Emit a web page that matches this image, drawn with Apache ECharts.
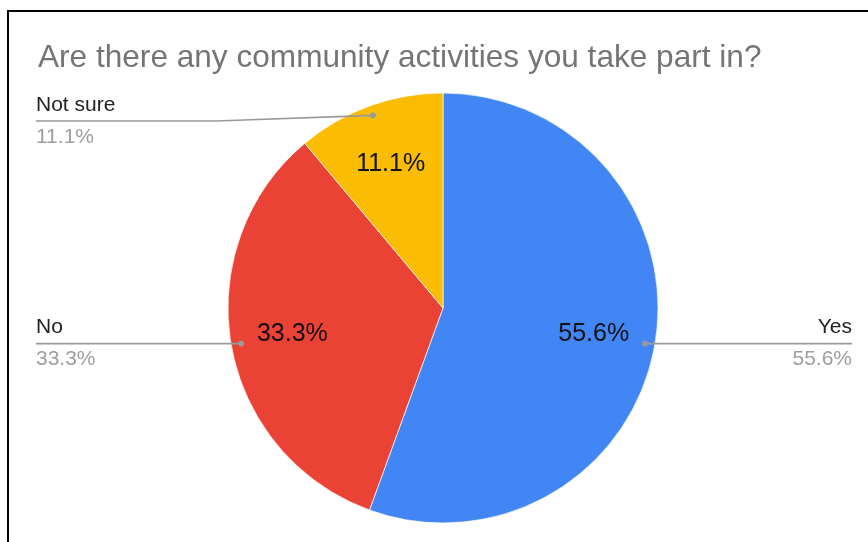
<!DOCTYPE html>
<html>
<head>
<meta charset="utf-8">
<script src="https://cdn.jsdelivr.net/npm/echarts@6/dist/echarts.min.js"></script>
<style>
  html, body { margin: 0; padding: 0; background: #fff; overflow: hidden; }
  #chart { position: absolute; left: 0; top: 0; width: 868px; height: 542px; }
  #frame { position: absolute; left: 7px; top: 10px; width: 900px; height: 600px; border: 2px solid #000; pointer-events: none; box-sizing: border-box; }
</style>
</head>
<body>
<div id="chart"></div>
<div id="frame"></div>
<script>
var titleText = 'Are there any community activities you take part in?';
var categories = ['Yes', 'No', 'Not sure'];
var counts = [5, 3, 1];
var colors = ['#4285F4', '#EA4335', '#FBBC04'];

var CX = 443, CY = 308, R = 215;
var LABEL_MIN_Y = 121;   // outside labels kept below the title area
var KINK = 180;          // length of the horizontal part of a bent leader line

var chart = echarts.init(document.getElementById('chart'), null, { renderer: 'canvas' });

function makeData(withColor) {
  return categories.map(function (c, i) {
    return {
      name: c,
      value: counts[i],
      itemStyle: withColor ? { color: colors[i] } : { color: 'rgba(0,0,0,0)', borderWidth: 0 }
    };
  });
}

function dotLine(s, endX, y, isRight) {
  var pts = [];
  var k;
  for (k = 0; k <= 12; k++) {
    var a = k / 12 * Math.PI * 2;
    pts.push([s[0] + 2.2 * Math.cos(a), s[1] + 2.2 * Math.sin(a)]);
  }
  for (k = 0; k <= 12; k++) {
    var b = k / 12 * Math.PI * 2;
    pts.push([s[0] + 1.0 * Math.cos(b), s[1] + 1.0 * Math.sin(b)]);
  }
  pts.push([s[0], s[1]]);
  if (Math.abs(y - s[1]) > 0.5) {
    pts.push([isRight ? endX - KINK : endX + KINK, y]);
  }
  pts.push([endX, y]);
  return pts;
}

var option = {
  animation: false,
  backgroundColor: '#fff',
  title: {
    text: titleText,
    left: 33,
    top: 37,
    textStyle: {
      fontFamily: 'Liberation Sans, Arial, sans-serif',
      fontSize: 31.6,
      fontWeight: 'normal',
      color: '#757575'
    }
  },
  series: [
    {
      type: 'pie',
      center: [CX, CY],
      radius: [0, R],
      startAngle: 90,
      clockwise: true,
      silent: true,
      data: makeData(true),
      itemStyle: { borderColor: '#fff', borderWidth: 0.7 },
      label: { show: false },
      labelLine: { show: false },
      emphasis: { disabled: true },
      z: 1
    },
    {
      type: 'pie',
      center: [CX, CY],
      radius: [85, R],
      startAngle: 90,
      clockwise: true,
      silent: true,
      percentPrecision: 1,
      data: makeData(false),
      label: {
        show: true,
        position: 'inside',
        formatter: '{d}%',
        fontFamily: 'Liberation Sans, Arial, sans-serif',
        fontSize: 25,
        color: '#111'
      },
      labelLine: { show: false },
      emphasis: { disabled: true },
      z: 3
    },
    {
      type: 'pie',
      center: [CX, CY],
      radius: [0, 205],
      startAngle: 90,
      clockwise: true,
      silent: true,
      percentPrecision: 1,
      data: makeData(false),
      label: {
        show: true,
        position: 'outside',
        formatter: '{n|{b}}\n{p|{d}%}',
        rich: {
          n: {
            fontFamily: 'Liberation Sans, Arial, sans-serif',
            fontSize: 21,
            color: '#222',
            lineHeight: 32
          },
          p: {
            fontFamily: 'Liberation Sans, Arial, sans-serif',
            fontSize: 21,
            color: '#9e9e9e',
            lineHeight: 32
          }
        }
      },
      labelLine: {
        show: true,
        length: 0,
        length2: 10,
        smooth: false,
        lineStyle: { color: '#999', width: 1.6 }
      },
      labelLayout: function (p) {
        var pts = p.labelLinePoints;
        if (!pts || !pts.length) { return {}; }
        var s = pts[0];
        var w = chart.getWidth();
        var isRight = s[0] > CX;
        var edgeX = isRight ? w - 16 : 36;
        var y = Math.max(s[1], LABEL_MIN_Y);
        return {
          x: edgeX,
          y: y,
          align: isRight ? 'right' : 'left',
          verticalAlign: 'middle',
          labelLinePoints: dotLine(s, edgeX, y, isRight)
        };
      },
      emphasis: { disabled: true },
      z: 4
    }
  ]
};

chart.setOption(option);
</script>
</body>
</html>
